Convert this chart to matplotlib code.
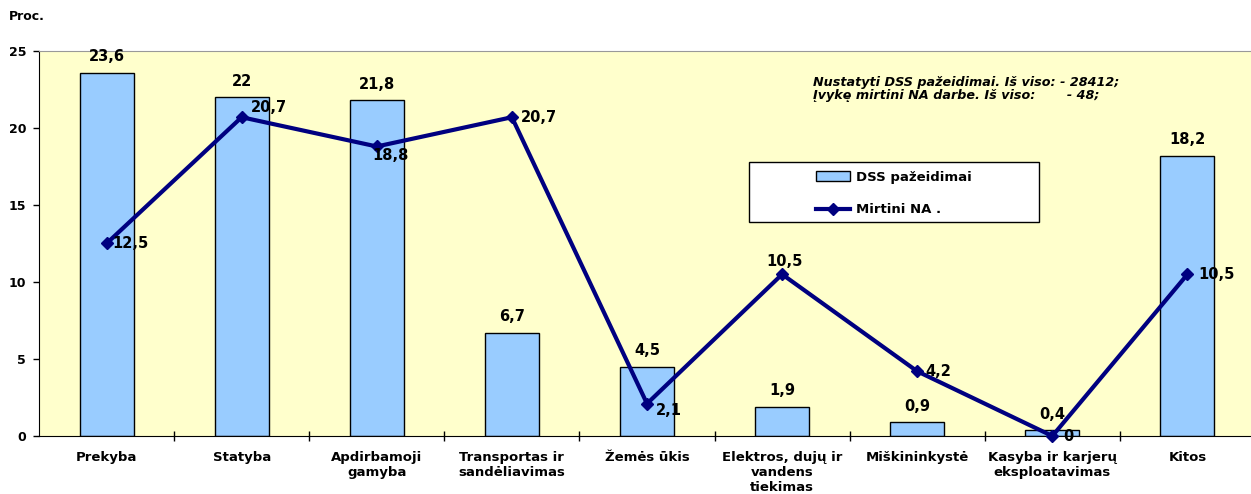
import numpy as np
import matplotlib
matplotlib.use('Agg')
import matplotlib.pyplot as plt
import matplotlib.patches as mpatches
from matplotlib.ticker import FixedLocator

plt.rcParams['font.family'] = ['DejaVu Sans']
plt.rcParams['font.weight'] = 'bold'

categories = ['Prekyba', 'Statyba', 'Apdirbamoji\ngamyba', 'Transportas ir\nsandėliavimas',
              'Žemės ūkis', 'Elektros, dujų ir\nvandens\ntiekimas', 'Miškininkystė',
              'Kasyba ir karjerų\neksploatavimas', 'Kitos']
dss = [23.6, 22, 21.8, 6.7, 4.5, 1.9, 0.9, 0.4, 18.2]
mirtini = [12.5, 20.7, 18.8, 20.7, 2.1, 10.5, 4.2, 0, 10.5]
y_ticks = [0, 5, 10, 15, 20, 25]

# label offsets in points for the line values (dx, dy)
line_offsets = [(4, 0), (6.5, 7), (-3, -6.5), (6.5, 0), (6.5, -5), (-11.5, 9.5), (6, 0), (8, 0), (8, 0)]

W, H = 1251, 494

def fmt(v):
    s = ('%.1f' % v).rstrip('0').rstrip('.')
    return s.replace('.', ',')

fig = plt.figure(figsize=(W / 100, H / 100), dpi=100)
ax = fig.add_axes([39 / W, 1 - 436 / H, 1216 / W, 385 / H])
ax.set_facecolor('#FFFFCC')

x = np.arange(len(categories))
ax.bar(x, dss, width=0.4, color='#99CCFF', edgecolor='black', linewidth=1,
       label='DSS pažeidimai', zorder=2)
ax.plot(x, mirtini, color='#000080', linewidth=3, marker='D', markersize=6.5,
        label='Mirtini NA .', zorder=3, clip_on=False)

for xi, v in zip(x, dss):
    ax.annotate(fmt(v), (xi, v), xytext=(0, 6), textcoords='offset points',
                ha='center', va='bottom', fontsize=10.5, fontweight='bold')
for xi, v, (dx, dy) in zip(x, mirtini, line_offsets):
    ax.annotate(fmt(v), (xi, v), xytext=(dx, dy), textcoords='offset points',
                ha='left', va='center', fontsize=10.5, fontweight='bold', zorder=4)

ax.set_xlim(-0.5, len(categories) - 0.5)
ax.set_ylim(0, 25)
ax.set_yticks(y_ticks)
ax.set_xticks(x)
ax.set_xticklabels(categories, fontsize=9.5, fontweight='bold', linespacing=1.2)
ax.xaxis.set_minor_locator(FixedLocator(np.arange(0.5, len(categories) - 0.5, 1)))
ax.tick_params(axis='x', which='major', length=0, pad=11)
ax.tick_params(axis='x', which='minor', length=7, direction='inout', width=1)
ax.tick_params(axis='y', length=4.3, direction='out', labelsize=9, width=1, pad=5)
for lab in ax.get_yticklabels():
    lab.set_fontweight('bold')

ax.spines['top'].set_color('#999999')
ax.spines['right'].set_visible(False)
ax.spines['left'].set_color('black')
ax.spines['bottom'].set_color('black')

# legend: Excel-style wide white box, entries drawn by matplotlib
box = mpatches.Rectangle((749 / W, 1 - 222 / H), 290 / W, 60 / H, transform=fig.transFigure,
                         facecolor='white', edgecolor='black', linewidth=1, zorder=5)
fig.patches.append(box)
handles, labels = ax.get_legend_handles_labels()
order = [1, 0] if labels[0] != 'DSS pažeidimai' else [0, 1]
leg = fig.legend([handles[i] for i in order], [labels[i] for i in order],
                 loc='center left', bbox_to_anchor=(816 / W, 1 - 193.5 / H),
                 frameon=False, borderpad=0, borderaxespad=0, handlelength=2.6,
                 handletextpad=0.4, labelspacing=1.5,
                 prop={'weight': 'bold', 'size': 9.5})
leg.set_zorder(6)

fig.text(813 / W, 1 - 89 / H, 'Nustatyti DSS pažeidimai. Iš viso: - 28412;\n'
         'Įvykę mirtini NA darbe. Iš viso:       - 48;',
         fontsize=9.2, fontweight='bold', style='italic', va='center', ha='left',
         linespacing=1.05)
fig.text(9 / W, 1 - 17 / H, 'Proc.', fontsize=9, fontweight='bold', va='center')

fig.savefig('out.png', dpi=100)
